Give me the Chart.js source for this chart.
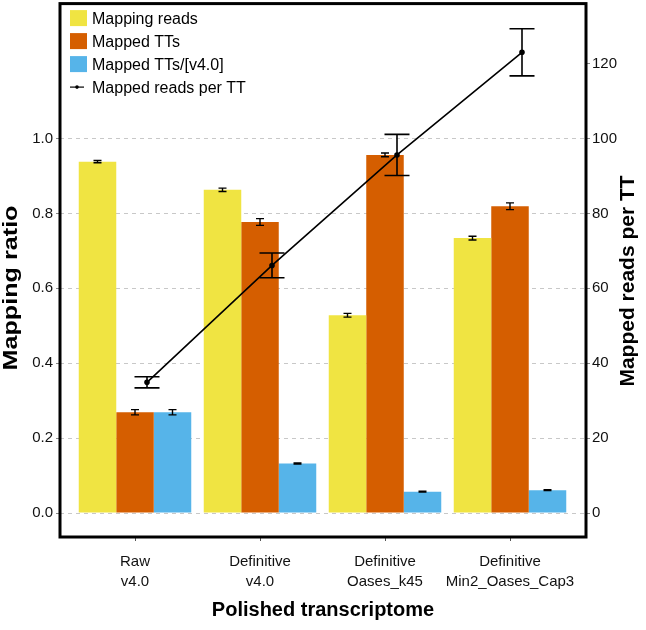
<!DOCTYPE html>
<html>
<head>
<meta charset="utf-8">
<script src="https://cdn.jsdelivr.net/npm/chart.js@4.4.1/dist/chart.umd.min.js"></script>
<style>
  html, body { margin: 0; padding: 0; background: #fff; }
  #wrap { width: 646px; height: 630px; position: relative; }
</style>
</head>
<body>
<div id="wrap"><canvas id="mapChart"></canvas></div>
<script>
// categories (two-line labels)
const categories = [
  ["Raw", "v4.0"],
  ["Definitive", "v4.0"],
  ["Definitive", "Oases_k45"],
  ["Definitive", "Min2_Oases_Cap3"]
];

// left axis: mapping ratio
const mappingReads = [0.938, 0.863, 0.528, 0.734];
const mappingReadsErr = [0.003, 0.0045, 0.005, 0.005];
const mappedTTs = [0.269, 0.777, 0.956, 0.819];
const mappedTTsErr = [0.007, 0.009, 0.005, 0.009];
const mappedTTsV4 = [0.269, 0.132, 0.057, 0.061];
const mappedTTsV4Err = [0.007, 0.0015, 0.0012, 0.0012];

// right axis: mapped reads per TT
const readsPerTT = [34.9, 66.1, 95.6, 123.0];
const readsPerTTErr = [1.5, 3.3, 5.5, 6.3];

const leftTicks = [0, 0.2, 0.4, 0.6, 0.8, 1.0];
const rightTicks = [0, 20, 40, 60, 80, 100, 120];

const YELLOW = "#F0E442";
const ORANGE = "#D55E00";
const BLUE = "#56B4E9";
const FONT = "'Liberation Sans', Arial, Helvetica, sans-serif";
const LINE_SHIFT = 0.096; // line points sit a little right of group centre

function toPts(arr, shift) {
  return arr.map(function (v, i) { return { x: i + (shift || 0), y: v }; });
}

function noEdgePadding(axis) {
  axis.paddingTop = 0;
  axis.paddingBottom = 0;
}

// error bars for bars and line points
const errorBars = {
  id: "errorBars",
  afterDatasetsDraw(chart) {
    const ctx = chart.ctx;
    ctx.save();
    ctx.strokeStyle = "#000";
    chart.data.datasets.forEach(function (ds, di) {
      if (!ds.errors) return;
      const meta = chart.getDatasetMeta(di);
      const yScale = chart.scales[ds.yAxisID];
      ctx.lineWidth = ds.type === "line" ? 1.6 : 1.4;
      const half = ds.type === "line" ? 12.5 : 4;
      meta.data.forEach(function (el, i) {
        const v = ds.data[i].y, e = ds.errors[i];
        const y1 = yScale.getPixelForValue(v + e);
        const y2 = yScale.getPixelForValue(v - e);
        const x = el.x;
        ctx.beginPath();
        ctx.moveTo(x, y1); ctx.lineTo(x, y2);
        ctx.moveTo(x - half, y1); ctx.lineTo(x + half, y1);
        ctx.moveTo(x - half, y2); ctx.lineTo(x + half, y2);
        ctx.stroke();
      });
    });
    ctx.restore();
  }
};

// frame, legend and axis titles
const decorations = {
  id: "decorations",
  afterDraw(chart) {
    const ctx = chart.ctx;
    const a = chart.chartArea;
    ctx.save();
    // frame
    ctx.strokeStyle = "#000";
    ctx.lineWidth = 3;
    ctx.strokeRect(a.left, a.top, a.right - a.left, a.bottom - a.top);

    // legend
    const items = [
      { label: "Mapping reads", color: YELLOW },
      { label: "Mapped TTs", color: ORANGE },
      { label: "Mapped TTs/[v4.0]", color: BLUE },
      { label: "Mapped reads per TT", line: true }
    ];
    ctx.font = "16px " + FONT;
    ctx.textBaseline = "middle";
    ctx.textAlign = "left";
    items.forEach(function (it, i) {
      const cy = a.top + 14.5 + i * 23;
      const bx = a.left + 10;
      if (it.line) {
        ctx.strokeStyle = "#000";
        ctx.lineWidth = 1.2;
        ctx.beginPath();
        ctx.moveTo(bx, cy); ctx.lineTo(bx + 14, cy);
        ctx.stroke();
        ctx.fillStyle = "#000";
        ctx.beginPath();
        ctx.arc(bx + 7, cy, 1.8, 0, Math.PI * 2);
        ctx.fill();
      } else {
        ctx.fillStyle = it.color;
        ctx.fillRect(bx, cy - 8, 17, 16);
      }
      ctx.fillStyle = "#000";
      ctx.fillText(it.label, a.left + 32, cy + 1);
    });

    // axis titles
    ctx.fillStyle = "#000";
    ctx.font = "bold 20px " + FONT;
    ctx.textAlign = "center";
    ctx.textBaseline = "alphabetic";
    ctx.fillText("Polished transcriptome", (a.left + a.right) / 2, 616);

    ctx.font = "bold 21px " + FONT;
    // left title is slightly stretched along its length, as in the source figure
    ctx.save();
    ctx.translate(17, 288);
    ctx.rotate(-Math.PI / 2);
    const w = ctx.measureText("Mapping ratio").width;
    ctx.scale(165 / w, 1);
    ctx.fillText("Mapping ratio", 0, 0);
    ctx.restore();

    ctx.save();
    ctx.translate(634, 281);
    ctx.rotate(-Math.PI / 2);
    ctx.fillText("Mapped reads per TT", 0, 0);
    ctx.restore();

    ctx.restore();
  }
};

const ctx = document.getElementById("mapChart").getContext("2d");

const mapChart = new Chart(ctx, {
  type: "bar",
  data: {
    datasets: [
      {
        type: "line",
        label: "Mapped reads per TT",
        data: toPts(readsPerTT, LINE_SHIFT),
        errors: readsPerTTErr,
        yAxisID: "y2",
        xAxisID: "x",
        borderColor: "#000",
        backgroundColor: "#000",
        borderWidth: 1.6,
        pointRadius: 2,
        pointHoverRadius: 2,
        tension: 0,
        order: 0
      },
      {
        label: "Mapping reads",
        data: toPts(mappingReads),
        errors: mappingReadsErr,
        backgroundColor: YELLOW,
        yAxisID: "y",
        xAxisID: "x",
        order: 1
      },
      {
        label: "Mapped TTs",
        data: toPts(mappedTTs),
        errors: mappedTTsErr,
        backgroundColor: ORANGE,
        yAxisID: "y",
        xAxisID: "x",
        order: 1
      },
      {
        label: "Mapped TTs/[v4.0]",
        data: toPts(mappedTTsV4),
        errors: mappedTTsV4Err,
        backgroundColor: BLUE,
        yAxisID: "y",
        xAxisID: "x",
        order: 1
      }
    ]
  },
  options: {
    responsive: true,
    maintainAspectRatio: false,
    animation: false,
    layout: { padding: { top: 3, left: 0, right: 0, bottom: 0 } },
    datasets: {
      bar: { categoryPercentage: 0.9, barPercentage: 1.0, borderWidth: 0 }
    },
    plugins: {
      legend: { display: false },
      tooltip: { enabled: false }
    },
    scales: {
      x: {
        type: "linear",
        position: "bottom",
        min: -0.6,
        max: 3.608,
        offset: false,
        afterBuildTicks: function (axis) {
          axis.ticks = categories.map(function (c, i) { return { value: i }; });
        },
        afterFit: function (axis) {
          axis.height = 93;
          axis.paddingLeft = 0;
          axis.paddingRight = 0;
        },
        border: { display: false },
        grid: {
          drawOnChartArea: false,
          drawTicks: true,
          tickLength: 4,
          tickColor: "#555",
          offset: false
        },
        ticks: {
          padding: 11,
          maxRotation: 0,
          autoSkip: false,
          color: "#111",
          font: { family: FONT, size: 15, lineHeight: 1.33 },
          callback: function (value) { return categories[value]; }
        }
      },
      y: {
        type: "linear",
        position: "left",
        min: -0.064,
        max: 1.36,
        afterBuildTicks: function (axis) {
          axis.ticks = leftTicks.map(function (v) { return { value: v }; });
        },
        afterFit: function (axis) {
          axis.width = 60;
          noEdgePadding(axis);
        },
        border: { display: false, dash: [4, 4] },
        grid: {
          color: "#c8c8c8",
          lineWidth: 1,
          tickLength: 4,
          tickColor: "#888"
        },
        ticks: {
          padding: 3,
          color: "#111",
          font: { family: FONT, size: 15 },
          callback: function (v) { return v.toFixed(1); }
        }
      },
      y2: {
        type: "linear",
        position: "right",
        min: -6.4,
        max: 136,
        afterBuildTicks: function (axis) {
          axis.ticks = rightTicks.map(function (v) { return { value: v }; });
        },
        afterFit: function (axis) {
          axis.width = 60;
          noEdgePadding(axis);
        },
        border: { display: false },
        grid: {
          drawOnChartArea: false,
          tickLength: 4,
          tickColor: "#888"
        },
        ticks: {
          padding: 2,
          color: "#111",
          font: { family: FONT, size: 15 },
          callback: function (v) { return String(v); }
        }
      }
    }
  },
  plugins: [errorBars, decorations]
});
</script>
</body>
</html>
